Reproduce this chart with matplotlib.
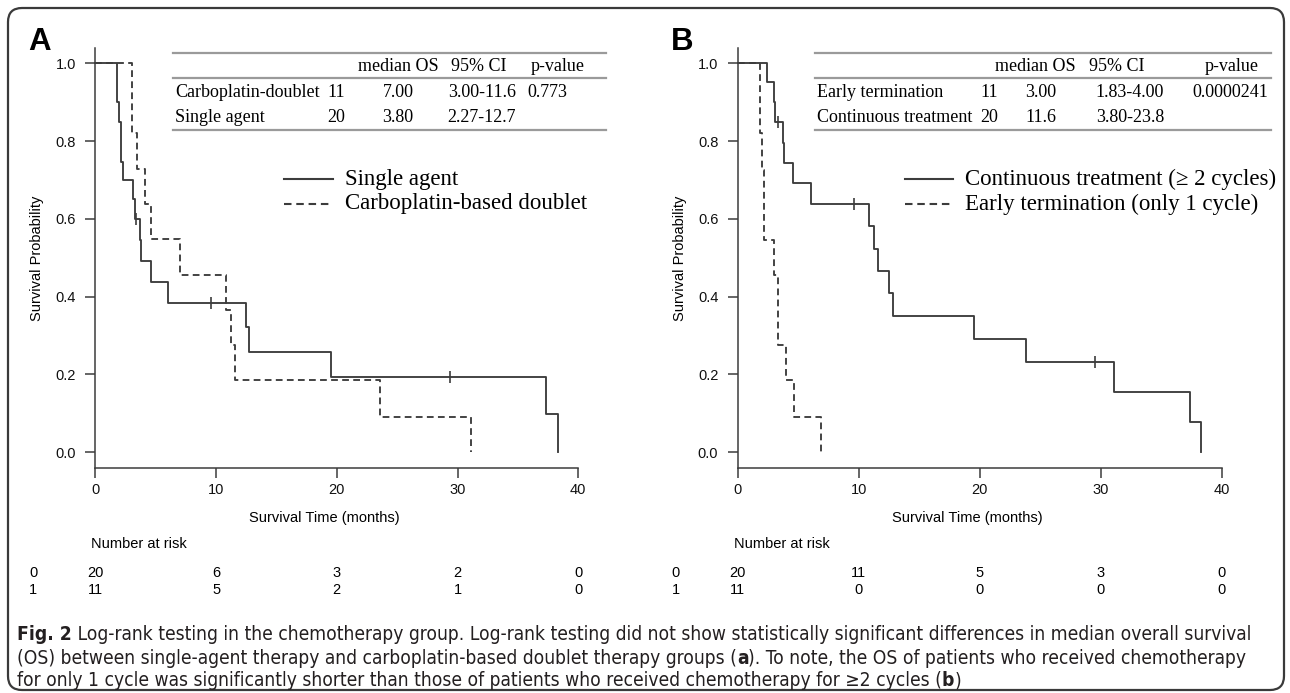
import matplotlib
matplotlib.use("Agg")
import matplotlib.pyplot as plt
from matplotlib.lines import Line2D
from matplotlib.patches import FancyBboxPatch
from matplotlib.transforms import IdentityTransform
from matplotlib import font_manager as fm

# ---------------- data ----------------
xticks = [0, 10, 20, 30, 40]
yticks = [0.0, 0.2, 0.4, 0.6, 0.8, 1.0]
ytick_labels = ["0.0", "0.2", "0.4", "0.6", "0.8", "1.0"]

# Panel A: single agent (solid) and carboplatin-based doublet (dashed)
a_single_t = [0, 1.77, 1.97, 2.16, 2.27, 3.10, 3.25, 3.74, 3.80, 4.65, 6.05, 12.5, 12.7, 19.5, 37.3, 38.3]
a_single_s = [1.0, 0.901, 0.85, 0.747, 0.70, 0.651, 0.60, 0.545, 0.492, 0.438, 0.383, 0.322, 0.258, 0.194, 0.098, 0.0]
a_single_cens_t = [3.35, 9.55, 29.4]
a_single_cens_s = [0.60, 0.383, 0.194]

a_doublet_t = [0, 3.00, 3.46, 4.08, 4.58, 7.00, 10.8, 11.25, 11.6, 23.6, 31.1]
a_doublet_s = [1.0, 0.82, 0.728, 0.638, 0.547, 0.455, 0.365, 0.275, 0.185, 0.091, 0.0]

# Panel B: continuous treatment (solid) and early termination (dashed)
b_cont_t = [0, 2.46, 2.97, 3.11, 3.71, 3.80, 4.61, 6.03, 10.87, 11.3, 11.6, 12.53, 12.84, 19.5, 23.8, 31.1, 37.4, 38.3]
b_cont_s = [1.0, 0.951, 0.90, 0.85, 0.796, 0.744, 0.693, 0.639, 0.581, 0.523, 0.466, 0.408, 0.350, 0.29, 0.231, 0.154, 0.077, 0.0]
b_cont_cens_t = [3.37, 9.6, 29.5]
b_cont_cens_s = [0.85, 0.639, 0.231]

b_early_t = [0, 1.83, 2.04, 2.20, 3.00, 3.30, 4.00, 4.67, 6.85]
b_early_s = [1.0, 0.82, 0.725, 0.545, 0.455, 0.275, 0.186, 0.09, 0.0]

risk_rows = ["0", "1"]
risk_a_0 = [20, 6, 3, 2, 0]
risk_a_1 = [11, 5, 2, 1, 0]
risk_b_0 = [20, 11, 5, 3, 0]
risk_b_1 = [11, 0, 0, 0, 0]

table_a_header = ["median OS", "95% CI", "p-value"]
table_a_rows = [["Carboplatin-doublet", "11", "7.00", "3.00-11.6", "0.773"],
                ["Single agent", "20", "3.80", "2.27-12.7", ""]]
table_b_header = ["median OS", "95% CI", "p-value"]
table_b_rows = [["Early termination", "11", "3.00", "1.83-4.00", "0.0000241"],
                ["Continuous treatment", "20", "11.6", "3.80-23.8", ""]]

legend_a = ["Single agent", "Carboplatin-based doublet"]
legend_b = ["Continuous treatment (\u2265 2 cycles)", "Early termination (only 1 cycle)"]

caption_lines = [
    [("Fig. 2", "bold"), (" Log-rank testing in the chemotherapy group. Log-rank testing did not show statistically significant differences in median overall survival", "normal")],
    [("(OS) between single-agent therapy and carboplatin-based doublet therapy groups (", "normal"), ("a", "bold"), ("). To note, the OS of patients who received chemotherapy", "normal")],
    [("for only 1 cycle was significantly shorter than those of patients who received chemotherapy for \u22652 cycles (", "normal"), ("b", "bold"), (")", "normal")],
]

# ---------------- fonts ----------------
avail = {f.name for f in fm.fontManager.ttflist}
SANS = ["Liberation Sans", "DejaVu Sans"]
SERIF = ["Liberation Serif", "DejaVu Serif"]

cap_family, cap_stretch = "Roboto", "normal"
if "Liberation Sans Narrow" in avail:
    cap_family = "Liberation Sans Narrow"
else:
    for fam in ["Noto Sans", "DejaVu Sans", "Open Sans", "Roboto"]:
        if fam not in avail:
            continue
        try:
            path = fm.findfont(fm.FontProperties(family=fam, stretch="condensed"),
                               fallback_to_default=False)
        except Exception:
            continue
        if "ondensed" in path or "arrow" in path:
            cap_family, cap_stretch = fam, "condensed"
            break
CAP = [cap_family, "DejaVu Sans"]

# ---------------- layout ----------------
W, H = 1290, 693
fig = plt.figure(figsize=(W / 100, H / 100), dpi=100)
fig.patch.set_facecolor("white")

LINE_C = "#3c3c3c"
RULE_C = "#9a9a9a"
TICK_FS = 10.5
LAB_FS = 10.5


def fx(x):
    return x / W


def fy(y):
    return 1 - y / H


Y1_PX, Y0_PX = 63.3, 452.0      # pixel rows of S=1.0 and S=0.0
PPU = Y0_PX - Y1_PX
YLO, YHI = -0.04, 1.04


def make_axes(x0_px, x40_px):
    top = Y0_PX - YHI * PPU
    bot = Y0_PX - YLO * PPU
    ax = fig.add_axes([fx(x0_px), fy(bot), (x40_px - x0_px) / W, (bot - top) / H])
    ax.set_xlim(0, 40)
    ax.set_ylim(YLO, YHI)
    ax.patch.set_alpha(0)
    for s in ["top", "right"]:
        ax.spines[s].set_visible(False)
    for s in ["left", "bottom"]:
        ax.spines[s].set_color(LINE_C)
        ax.spines[s].set_linewidth(1.1)
    ax.spines["bottom"].set_bounds(0, 40)
    ax.set_xticks(xticks)
    ax.set_yticks(yticks)
    ax.set_yticklabels(ytick_labels)
    ax.tick_params(axis="both", direction="out", length=7, width=1.1, color=LINE_C,
                   labelsize=TICK_FS, labelcolor="#111111")
    ax.tick_params(axis="x", pad=4)
    ax.tick_params(axis="y", pad=7)
    for lab in ax.get_xticklabels() + ax.get_yticklabels():
        lab.set_family(SANS)
    return ax


def km(ax, t, s, dashed):
    ls = (0, (3.6, 2.3)) if dashed else "-"
    ax.step(t, s, where="post", color=LINE_C, lw=1.35, ls=ls, clip_on=False)


def cens(ax, t, s):
    ax.plot(t, s, ls="none", marker="|", ms=8, mew=1.2, color=LINE_C, clip_on=False)


panels = [
    dict(x0=95.3, x40=578.3, letter="A", solid=(a_single_t, a_single_s), sc=(a_single_cens_t, a_single_cens_s),
         dash=(a_doublet_t, a_doublet_s), r0=risk_a_0, r1=risk_a_1, header=table_a_header, rows=table_a_rows,
         rule=(173, 606), cols=(336, 398, 482, 547), hcols=(398, 479, 558), legend=legend_a, leg_x=(284, 333)),
    dict(x0=737.7, x40=1221.7, letter="B", solid=(b_cont_t, b_cont_s), sc=(b_cont_cens_t, b_cont_cens_s),
         dash=(b_early_t, b_early_s), r0=risk_b_0, r1=risk_b_1, header=table_b_header, rows=table_b_rows,
         rule=(815, 1271), cols=(989, 1041, 1130, 1230), hcols=(1035, 1117, 1232), legend=legend_b, leg_x=(905, 953)),
]

for p in panels:
    ax = make_axes(p["x0"], p["x40"])
    km(ax, *p["dash"], dashed=True)
    km(ax, *p["solid"], dashed=False)
    cens(ax, *p["sc"])
    ppm = (p["x40"] - p["x0"]) / 40.0

    # panel letter
    fig.text(fx(p["x0"] - 67), fy(42), p["letter"], fontsize=22.5, fontweight="bold",
             family=SANS, ha="left", va="center")
    # y label
    fig.text(fx(p["x0"] - 58), fy(258), "Survival Probability", rotation=90, fontsize=LAB_FS,
             family=SANS, ha="center", va="center")
    # x label
    fig.text(fx(p["x0"] + 19 * ppm), fy(518), "Survival Time (months)", fontsize=LAB_FS,
             family=SANS, ha="center", va="center")
    # number at risk
    fig.text(fx(p["x0"] - 4), fy(544), "Number at risk", fontsize=LAB_FS, family=SANS,
             ha="left", va="center")
    for ry, lab, vals in [(573, risk_rows[0], p["r0"]), (590, risk_rows[1], p["r1"])]:
        fig.text(fx(p["x0"] - 62), fy(ry), lab, fontsize=TICK_FS, family=SANS, ha="center", va="center")
        for xt, v in zip(xticks, vals):
            fig.text(fx(p["x0"] + xt * ppm), fy(ry), str(v), fontsize=TICK_FS, family=SANS,
                     ha="center", va="center")

    # summary table
    r0, r1 = p["rule"]
    for yy in (53, 78, 129.5):
        fig.add_artist(Line2D([fx(r0), fx(r1)], [fy(yy), fy(yy)], color=RULE_C, lw=1.6))
    for xc, h in zip(p["hcols"], p["header"]):
        fig.text(fx(xc), fy(66.5), h, fontsize=13, family=SERIF, ha="center", va="center")
    for ry, row in zip((92.5, 117), p["rows"]):
        fig.text(fx(r0 + 2), fy(ry), row[0], fontsize=13, family=SERIF, ha="left", va="center")
        for xc, v in zip(p["cols"], row[1:]):
            if v:
                fig.text(fx(xc), fy(ry), v, fontsize=13, family=SERIF, ha="center", va="center")

    # legend
    lx0, lx1 = p["leg_x"]
    for ly, lab, dashed in [(179, p["legend"][0], False), (204, p["legend"][1], True)]:
        fig.add_artist(Line2D([fx(lx0), fx(lx1)], [fy(ly), fy(ly)], color=LINE_C, lw=1.5,
                              ls=(0, (3.6, 2.3)) if dashed else "-"))
        fig.text(fx(lx1 + 12), fy(ly), lab, fontsize=16.5, family=SERIF, ha="left", va="center")

# ---------------- caption ----------------
renderer = fig.canvas.get_renderer()
cap_size = 13.0
probe = fig.text(0, 0, "".join(s for s, _ in caption_lines[0]), fontsize=cap_size, family=CAP,
                 fontstretch=cap_stretch)
wid = probe.get_window_extent(renderer=renderer).width
probe.remove()
cap_size = cap_size * (1261 - 17) / wid * 0.99

for yy, segs in zip((635, 658, 681), caption_lines):
    x = 17.0
    for s, w in segs:
        t = fig.text(fx(x), fy(yy), s, fontsize=cap_size, fontweight=w, family=CAP,
                     fontstretch=cap_stretch, ha="left", va="center", color="#231f20")
        x += t.get_window_extent(renderer=renderer).width

# ---------------- border ----------------
border = FancyBboxPatch((8, H - 690), 1276, 682, boxstyle="round,pad=0,rounding_size=14",
                        transform=IdentityTransform(), fill=False, ec="#3a3a3a", lw=1.6)
fig.add_artist(border)

fig.savefig("out.png", dpi=100)
